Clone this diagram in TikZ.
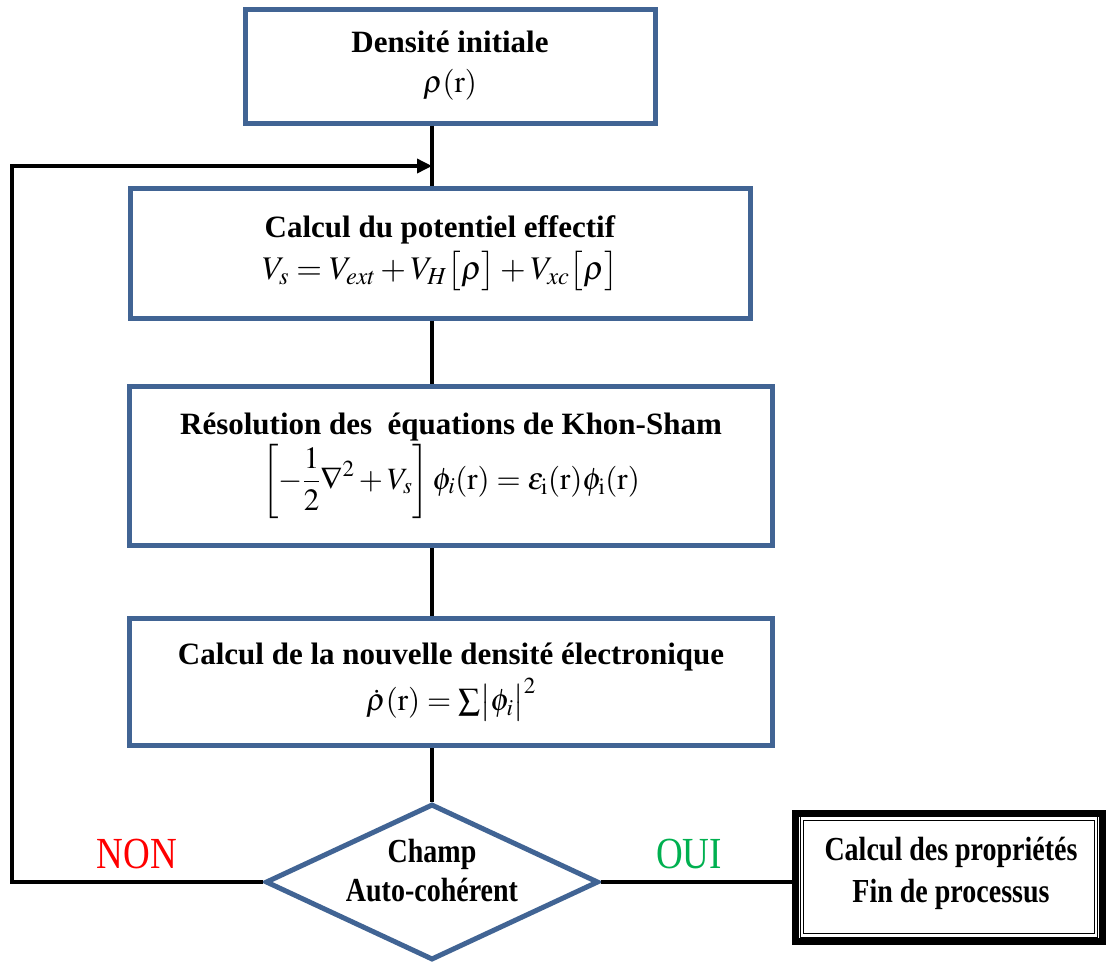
\documentclass[tikz,border=0pt]{standalone}
\usepackage{mathptmx}
\usepackage[no-math]{fontspec}
\setmainfont{Liberation Serif}
\usepackage{graphicx}
\usetikzlibrary{shapes.geometric,arrows.meta}
\definecolor{boxblue}{RGB}{65,100,148}
\definecolor{nonred}{RGB}{255,0,0}
\definecolor{ouigreen}{RGB}{0,176,80}
\newcommand{\vstr}[1]{\scalebox{1}[1.2]{#1}}
\begin{document}
\begin{tikzpicture}[x=1pt,y=-1pt,
  procbox/.style={draw=boxblue, line width=5pt, fill=white, align=center, inner sep=0pt,
    font=\fontsize{31}{36}\selectfont},
  conn/.style={line width=3.5pt, black},
  decision/.style={diamond, draw=boxblue, line width=5pt, fill=white, inner sep=0pt,
    minimum width=333pt, minimum height=156pt, aspect=2.13},
  endbox/.style={draw=black, line width=7pt, fill=white, inner sep=0pt,
    minimum width=307pt, minimum height=128pt},
  answer/.style={font=\fontsize{37}{40}\selectfont, inner sep=0pt}
]
\useasboundingbox (0,0) rectangle (1107,962);

\node[procbox, minimum width=410pt, minimum height=114pt] (init) at (450,66)
  {\textbf{Densité initiale}\\[4pt] $\rho(\mathrm{r})$};
\node[procbox, minimum width=620pt, minimum height=130pt] (pot) at (440,253)
  {\textbf{Calcul du potentiel effectif}\\[6pt]
   \fontsize{33}{38}\selectfont$V_s = V_{ext} + V_H\bigl[\rho\bigr] + V_{xc}\bigl[\rho\bigr]$};
\node[procbox, minimum width=643pt, minimum height=159pt] (ks) at (451,466)
  {\textbf{Résolution des\ \ équations de Khon-Sham}\\[2pt]
   $\displaystyle \left[-\frac{1}{2}\nabla^2 + V_s\right]\phi_i(\mathrm{r}) = \varepsilon_{\mathrm{i}}(\mathrm{r})\phi_{\mathrm{i}}(\mathrm{r})$};
\node[procbox, minimum width=643pt, minimum height=127pt] (dens) at (451,682)
  {\textbf{Calcul de la nouvelle densité électronique}\\[6pt]
   $\dot\rho(\mathrm{r}) = \sum\bigl|\phi_i\bigr|^2$};

\node[decision] (scf) at (432,882) {};
\node[font=\fontsize{28}{33}\selectfont\bfseries] (scftext) at (432,874)
  {\vstr{\begin{tabular}{@{}c@{}}Champ\\[-1pt] Auto-cohérent\end{tabular}}};

\node[endbox] (fin) at (949,877) {};
\node[font=\fontsize{28}{33}\selectfont\bfseries] (fintext) at (951,874)
  {\vstr{\begin{tabular}{@{}c@{}}Calcul des propriétés\\[2pt] Fin de processus\end{tabular}}};
\draw[double, double distance=2.2pt, line width=1pt]
  ([shift={(10pt,-9pt)}]fin.north west) rectangle ([shift={(-10pt,9pt)}]fin.south east);

\node[answer, text=nonred] (non) at (137,854) {\vstr{NON}};
\node[answer, text=ouigreen] (oui) at (689,854) {\vstr{OUI}};

\coordinate (trunk) at (432,0);
\coordinate (loopL) at (12,0);
\coordinate (loopT) at (0,166);
\draw[conn] (init.south -| trunk) -- (pot.north -| trunk);
\draw[conn] (pot.south -| trunk) -- (ks.north -| trunk);
\draw[conn] (ks.south -| trunk) -- (dens.north -| trunk);
\draw[conn] (dens.south -| trunk) -- (scf.north);
\draw[conn, -{Triangle[length=15pt,width=14pt]}]
  (scf.west) -- (scf.west -| loopL) -- (loopL |- loopT) -- (trunk |- loopT);
\draw[conn] (scf.east) -- (scf.east -| fin.west);
\end{tikzpicture}
\end{document}
